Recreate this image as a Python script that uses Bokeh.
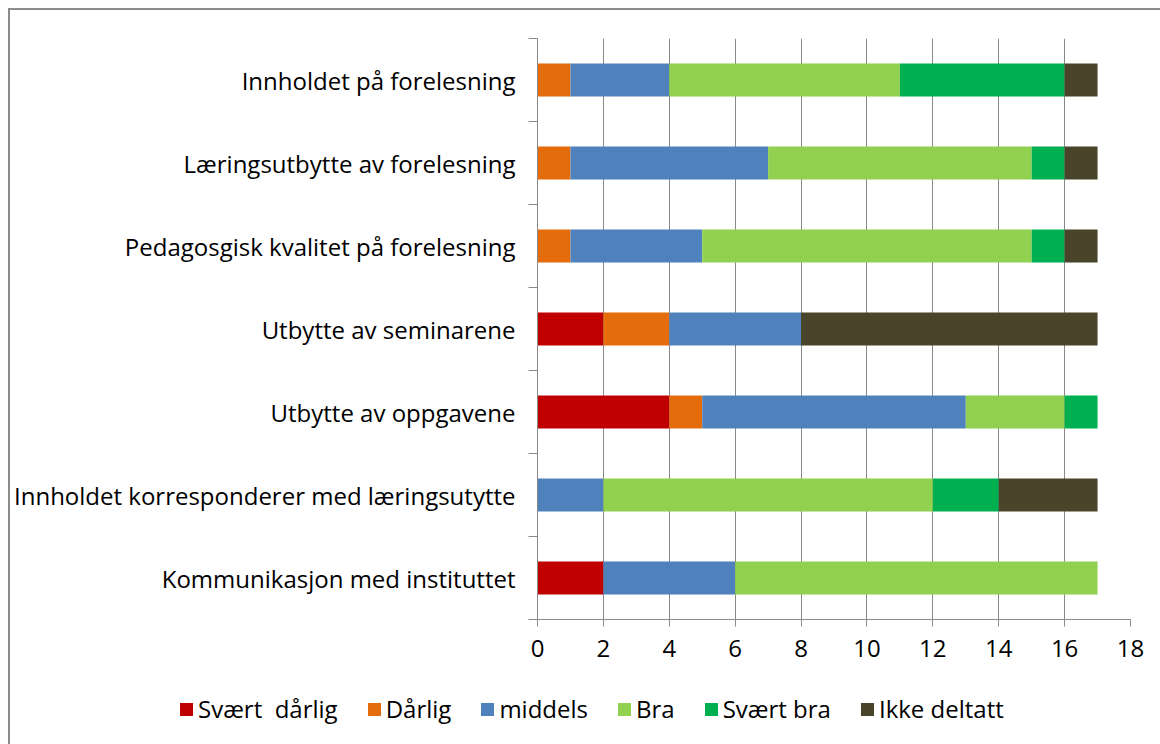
from bokeh.plotting import figure
from bokeh.layouts import column
from bokeh.models import (ColumnDataSource, FactorRange, Range1d, LinearAxis,
                          CategoricalAxis, FixedTicker, Div)
from bokeh.embed import file_html
from bokeh.resources import INLINE

categories = [
    "Innholdet på forelesning",
    "Læringsutbytte av forelesning",
    "Pedagosgisk kvalitet på forelesning",
    "Utbytte av seminarene",
    "Utbytte av oppgavene",
    "Innholdet korresponderer med læringsutytte",
    "Kommunikasjon med instituttet",
]
svaert_darlig = [0, 0, 0, 2, 4, 0, 2]
darlig = [1, 1, 1, 2, 1, 0, 0]
middels = [3, 6, 4, 4, 8, 2, 4]
bra = [7, 8, 10, 0, 3, 10, 11]
svaert_bra = [5, 1, 1, 0, 1, 2, 0]
ikke_deltatt = [1, 1, 1, 9, 0, 3, 0]
series_names = ["Svært  dårlig", "Dårlig", "middels", "Bra", "Svært bra", "Ikke deltatt"]
colors = ["#C00000", "#E46C0A", "#4F81BD", "#92D050", "#00B050", "#4A452A"]
x_ticks = [0, 2, 4, 6, 8, 10, 12, 14, 16, 18]

FONT = "Open Sans"
FS = "24px"
GRAY = "#898989"

keys = ["sd", "d", "m", "b", "sb", "ik"]
source = ColumnDataSource(dict(cat=categories, sd=svaert_darlig, d=darlig, m=middels,
                               b=bra, sb=svaert_bra, ik=ikke_deltatt))

W = 1150
H_MAIN = 669
H_LEG = 65

p = figure(width=W, height=H_MAIN,
           y_range=FactorRange(factors=list(reversed(categories))),
           x_range=Range1d(0, 18),
           output_backend="svg", toolbar_location=None,
           y_axis_location=None)
p.min_border_left = 527
p.min_border_right = 30
p.min_border_top = 28
p.min_border_bottom = 60
p.outline_line_color = None

renderers = p.hbar_stack(keys, y="cat", height=0.4, color=colors, source=source, line_width=0)

# grid
p.xgrid.ticker = FixedTicker(ticks=x_ticks)
p.xgrid.grid_line_color = GRAY
p.xgrid.grid_line_width = 1
p.ygrid.grid_line_color = None

# x axis
xa = p.xaxis[0]
xa.ticker = FixedTicker(ticks=x_ticks)
xa.axis_line_color = GRAY
xa.major_tick_line_color = GRAY
xa.major_tick_out = 7
xa.major_tick_in = 0
xa.minor_tick_line_color = None
xa.major_label_text_font = FONT
xa.major_label_text_font_size = FS
xa.major_label_text_color = "black"
xa.major_label_standoff = 13

# y axis: ticks at category boundaries (synthetic coords 0..7) + category labels
n_cat = len(categories)
tick_axis = LinearAxis(ticker=FixedTicker(ticks=list(range(n_cat + 1))),
                       major_label_overrides={i: "" for i in range(n_cat + 1)},
                       major_label_text_font_size="0px",
                       major_label_standoff=0,
                       major_tick_out=9, major_tick_in=0,
                       minor_tick_line_color=None,
                       axis_line_color=GRAY, major_tick_line_color=GRAY)
cat_axis = CategoricalAxis(axis_line_color=None, major_tick_line_color=None,
                           minor_tick_line_color=None,
                           major_label_text_font=FONT,
                           major_label_text_font_size=FS,
                           major_label_text_color="black",
                           major_label_standoff=7)
p.add_layout(tick_axis, "left")
p.add_layout(cat_axis, "left")

# legend strip below the plot, built from the series names and colours
items_html = "".join(
    '<span style="display:inline-flex;align-items:center;margin-right:30px;white-space:pre;">'
    f'<span style="display:inline-block;width:13px;height:13px;background:{c};margin-right:5px;"></span>'
    f'{n}</span>'
    for n, c in zip(series_names, colors)
)
legend_div = Div(
    text=(f'<div style="display:flex;align-items:center;height:{H_LEG - 4}px;padding-left:170px;'
          f'font-family:\'{FONT}\';font-size:{FS};color:black;white-space:nowrap;">{items_html}</div>'),
    width=W, height=H_LEG, margin=0)

layout = column(p, legend_div, spacing=0,
                styles={"margin-left": "8px", "margin-top": "8px",
                        "border-left": "2px solid #8c8c8c", "border-top": "2px solid #8c8c8c"})

open("out.html", "w").write(file_html(layout, INLINE))
